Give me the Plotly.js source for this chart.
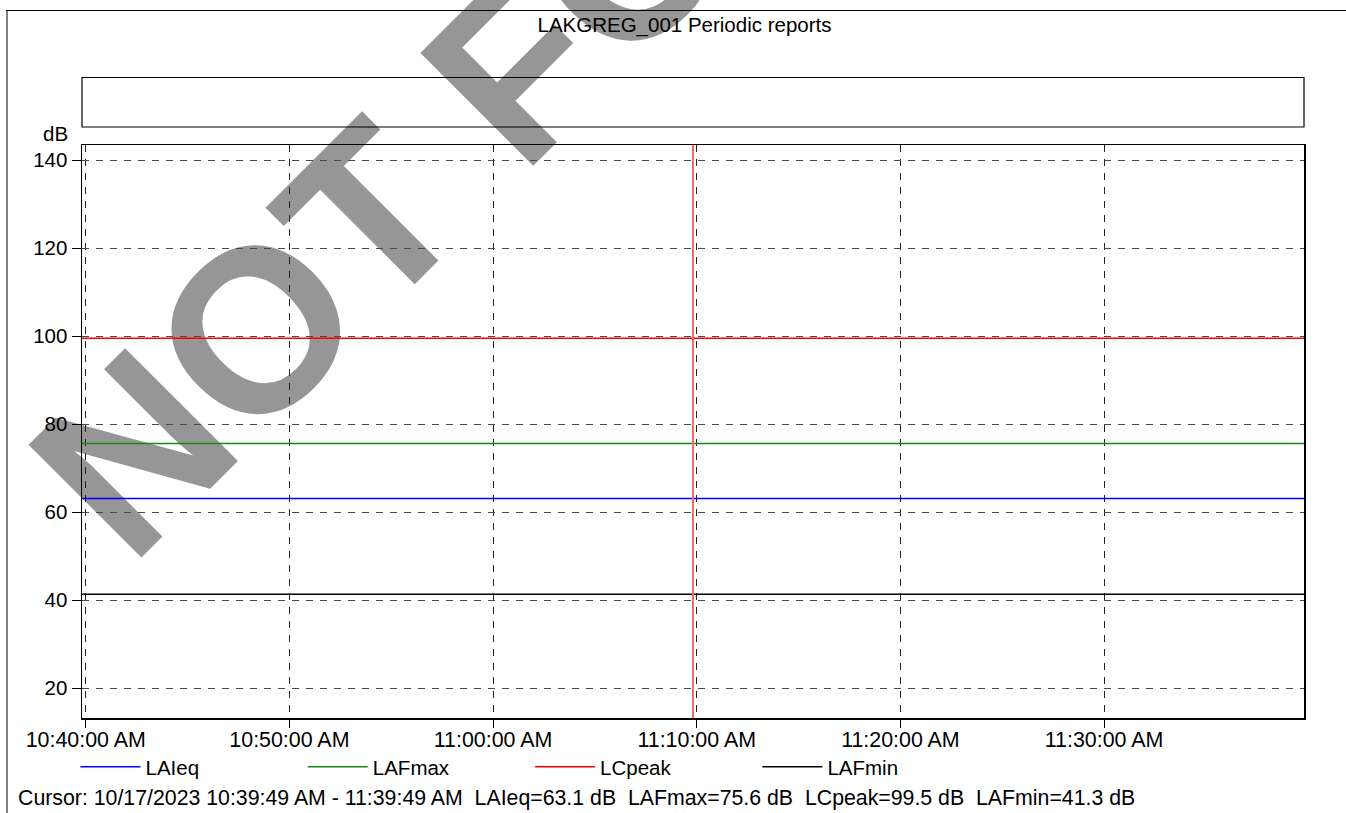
<!DOCTYPE html>
<html>
<head>
<meta charset="utf-8">
<script src="https://cdn.plot.ly/plotly-3.0.1.min.js"></script>
<style>html,body{margin:0;padding:0;background:#fff;} #chart{width:1346px;height:813px;}</style>
</head>
<body>
<div id="chart"></div>
<script>
// ---- data ----
const chartTitle = 'LAKGREG_001 Periodic reports';
const reportDate = '2023-10-17';
const times = ['2023-10-17 10:39:49', '2023-10-17 11:39:49'];
const seriesNames = ['LAIeq', 'LAFmax', 'LCpeak', 'LAFmin'];
const LAIeq  = [63.1, 63.1];
const LAFmax = [75.6, 75.6];
const LCpeak = [99.5, 99.5];
const LAFmin = [41.3, 41.3];
const seriesColors = ['#0000ff', '#138a13', '#ff0000', '#000000'];
const cursorTime = '2023-10-17 11:09:49';
const cursorText = 'Cursor: 10/17/2023 10:39:49 AM - 11:39:49 AM';
const yUnit = 'dB';
const yTicks = [20, 40, 60, 80, 100, 120, 140];
const watermarkText = 'NOT FOR';

// ---- layout helpers ----
const FW = 1346, FH = 813;
const L = 82, R = 42, T = 145, B = 95;
const PW = FW - L - R, PH = FH - T - B;
const px = x => (x - L) / PW;
const py = y => 1 - (y - T) / PH;
const FONT = 'Liberation Sans, Arial, sans-serif';
const FS = 20.5;

const values = [LAIeq, LAFmax, LCpeak, LAFmin];
const traces = seriesNames.map((n, i) => ({
  type: 'scatter', mode: 'lines', name: n,
  x: times, y: values[i],
  line: {color: seriesColors[i], width: 1.5},
  hoverinfo: 'skip'
}));

const readout = seriesNames.map((n, i) => n + '=' + values[i][0].toFixed(1) + ' dB').join('  ');

const layout = {
  width: FW, height: FH,
  margin: {l: L, r: R, t: T, b: B, pad: 0},
  paper_bgcolor: '#ffffff', plot_bgcolor: '#ffffff',
  font: {family: FONT, size: FS, color: '#000'},
  title: {text: chartTitle, xref: 'container', yref: 'container',
          x: 684.5 / FW, xanchor: 'center', y: 1 - 25 / FH, yanchor: 'middle',
          font: {family: FONT, size: FS, color: '#000'}},
  showlegend: true,
  legend: {orientation: 'h', x: px(75.5), y: py(747), xanchor: 'left', yanchor: 'top',
           font: {family: FONT, size: FS, color: '#000'},
           itemwidth: 60, entrywidth: 152.3, entrywidthmode: 'pixels',
           bgcolor: 'rgba(0,0,0,0)', borderwidth: 0, tracegroupgap: 0},
  xaxis: {type: 'date', range: times,
          tick0: reportDate + ' 10:40:00', dtick: 600000, tickformat: '%-I:%M:%S %p',
          showgrid: true, gridcolor: '#222', griddash: '7px,7px', gridwidth: 1,
          ticks: 'outside', ticklen: 8, tickcolor: '#000', tickwidth: 1,
          ticklabelstandoff: -6,
          showline: true, linecolor: '#000', linewidth: 1.5, mirror: true,
          zeroline: false, tickfont: {family: FONT, size: 21.4, color: '#000'}},
  yaxis: {range: [13.19, 143.41], tickvals: yTicks,
          showgrid: true, gridcolor: '#4a4a4a', griddash: '7px,7px', gridwidth: 1,
          ticks: 'outside', ticklen: 9, tickcolor: '#000', tickwidth: 1,
          showline: true, linecolor: '#000', linewidth: 1.5, mirror: true,
          zeroline: false, tickfont: {family: FONT, size: FS, color: '#000'}},
  shapes: [
    // watermark (below everything)
    {type: 'rect', xref: 'paper', yref: 'paper', layer: 'below',
     x0: px(426), x1: px(428), y0: py(126), y1: py(128),
     line: {width: 0}, fillcolor: 'rgba(0,0,0,0)',
     label: {text: watermarkText, textangle: -45, textposition: 'middle center',
             font: {family: FONT, size: 232, color: '#969696', weight: 'bold'}}},
    // outer frame
    {type: 'line', xref: 'paper', yref: 'paper', x0: px(7), x1: px(7), y0: py(10), y1: py(813),
     line: {color: '#808080', width: 2}},
    {type: 'line', xref: 'paper', yref: 'paper', x0: px(6), x1: px(1346), y0: py(10.5), y1: py(10.5),
     line: {color: '#000', width: 1}},
    // empty header box
    {type: 'rect', xref: 'paper', yref: 'paper', x0: 0, x1: 1, y0: py(127), y1: py(77.5),
     line: {color: '#000', width: 1.2}, fillcolor: 'rgba(0,0,0,0)'},
    // cursor
    {type: 'line', xref: 'x', yref: 'paper', x0: cursorTime, x1: cursorTime, y0: 0, y1: 1,
     line: {color: '#f26a6a', width: 2}}
  ],
  annotations: [
    {text: yUnit, xref: 'paper', yref: 'paper', x: px(69.5), y: py(134),
     xanchor: 'right', yanchor: 'middle', showarrow: false,
     font: {family: FONT, size: FS, color: '#000'}},
    {text: cursorText + '  ' + readout, xref: 'paper', yref: 'paper', x: px(15.5), y: py(798),
     xanchor: 'left', yanchor: 'middle', showarrow: false,
     font: {family: FONT, size: 21.3, color: '#000'}}
  ]
};

Plotly.newPlot('chart', traces, layout, {displayModeBar: false, staticPlot: true});
</script>
</body>
</html>
